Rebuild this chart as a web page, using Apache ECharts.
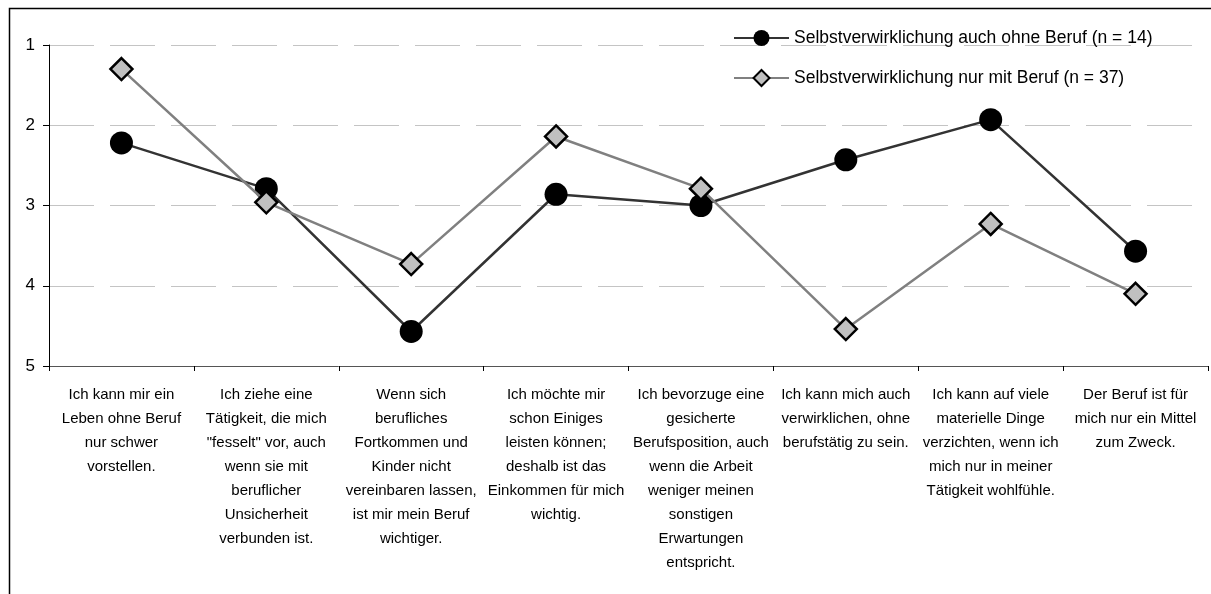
<!DOCTYPE html>
<html>
<head>
<meta charset="utf-8">
<script src="https://cdn.jsdelivr.net/npm/echarts@6/dist/echarts.min.js"></script>
<style>
html,body{margin:0;padding:0;background:#fff;}
#c{width:1211px;height:594px;}
</style>
</head>
<body>
<div id="c"></div>
<script>
const categories = [
  "Ich kann mir ein\nLeben ohne Beruf\nnur schwer\nvorstellen.",
  "Ich ziehe eine\nTätigkeit, die mich\n\"fesselt\" vor, auch\nwenn sie mit\nberuflicher\nUnsicherheit\nverbunden ist.",
  "Wenn sich\nberufliches\nFortkommen und\nKinder nicht\nvereinbaren lassen,\nist mir mein Beruf\nwichtiger.",
  "Ich möchte mir\nschon Einiges\nleisten können;\ndeshalb ist das\nEinkommen für mich\nwichtig.",
  "Ich bevorzuge eine\ngesicherte\nBerufsposition, auch\nwenn die Arbeit\nweniger meinen\nsonstigen\nErwartungen\nentspricht.",
  "Ich kann mich auch\nverwirklichen, ohne\nberufstätig zu sein.",
  "Ich kann auf viele\nmaterielle Dinge\nverzichten, wenn ich\nmich nur in meiner\nTätigkeit wohlfühle.",
  "Der Beruf ist für\nmich nur ein Mittel\nzum Zweck."
];
const seriesNames = [
  "Selbstverwirklichung auch ohne Beruf (n = 14)",
  "Selbstverwirklichung nur mit Beruf (n = 37)"
];
const auchOhneBeruf = [2.22, 2.79, 4.57, 2.86, 3.00, 2.43, 1.93, 3.57];
const nurMitBeruf   = [1.30, 2.96, 3.73, 2.14, 2.79, 4.54, 3.23, 4.10];
const yTicks = [1, 2, 3, 4, 5];

const FONT = "'Liberation Sans Narrow','Arial Narrow','Liberation Sans',Arial,sans-serif";
const chart = echarts.init(document.getElementById('c'), null, {renderer:'canvas'});
chart.setOption({
  animation:false,
  backgroundColor:'#fff',
  graphic:[{
    type:'rect', left:7, top:6, shape:{x:0,y:0,width:1240,height:620},
    style:{fill:null, stroke:'#000', lineWidth:1.5}, silent:true, z:-1
  }],
  grid:{left:49, right:3, top:45, bottom:228, containLabel:false},
  legend:{
    orient:'vertical', left:728, top:24, itemGap:22,
    itemWidth:55, itemHeight:20,
    textStyle:{fontFamily:FONT, fontSize:17.5, color:'#000'},
    data:seriesNames
  },
  xAxis:{
    type:'category', data:categories, boundaryGap:true,
    axisLine:{lineStyle:{color:'#555', width:1}},
    axisTick:{show:true, length:5, lineStyle:{color:'#000'}, alignWithLabel:false, interval:0},
    axisLabel:{interval:0, margin:17, fontFamily:FONT, fontSize:15, lineHeight:24, color:'#000', verticalAlign:'top', align:'center'},
    splitLine:{show:false}
  },
  yAxis:{
    type:'value', inverse:true, min:yTicks[0], max:yTicks[yTicks.length-1], interval:1,
    axisLine:{show:true, lineStyle:{color:'#000', width:1}},
    axisTick:{show:true, length:6, lineStyle:{color:'#000'}},
    axisLabel:{fontFamily:FONT, fontSize:17, color:'#000', margin:14},
    splitLine:{show:true, lineStyle:{color:'#c4c4c4', width:1, type:[45,16]}}
  },
  series:[
    {
      name:seriesNames[0], type:'line', data:auchOhneBeruf,
      symbol:'circle', symbolSize:23,
      lineStyle:{color:'#333', width:2.5},
      itemStyle:{color:'#000', borderColor:'#000', borderWidth:0},
      z:3
    },
    {
      name:seriesNames[1], type:'line', data:nurMitBeruf,
      symbol:'diamond', symbolSize:[22,22],
      lineStyle:{color:'#808080', width:2.5},
      itemStyle:{color:'#c0c0c0', borderColor:'#000', borderWidth:2.5},
      z:4
    }
  ]
});
</script>
</body>
</html>
